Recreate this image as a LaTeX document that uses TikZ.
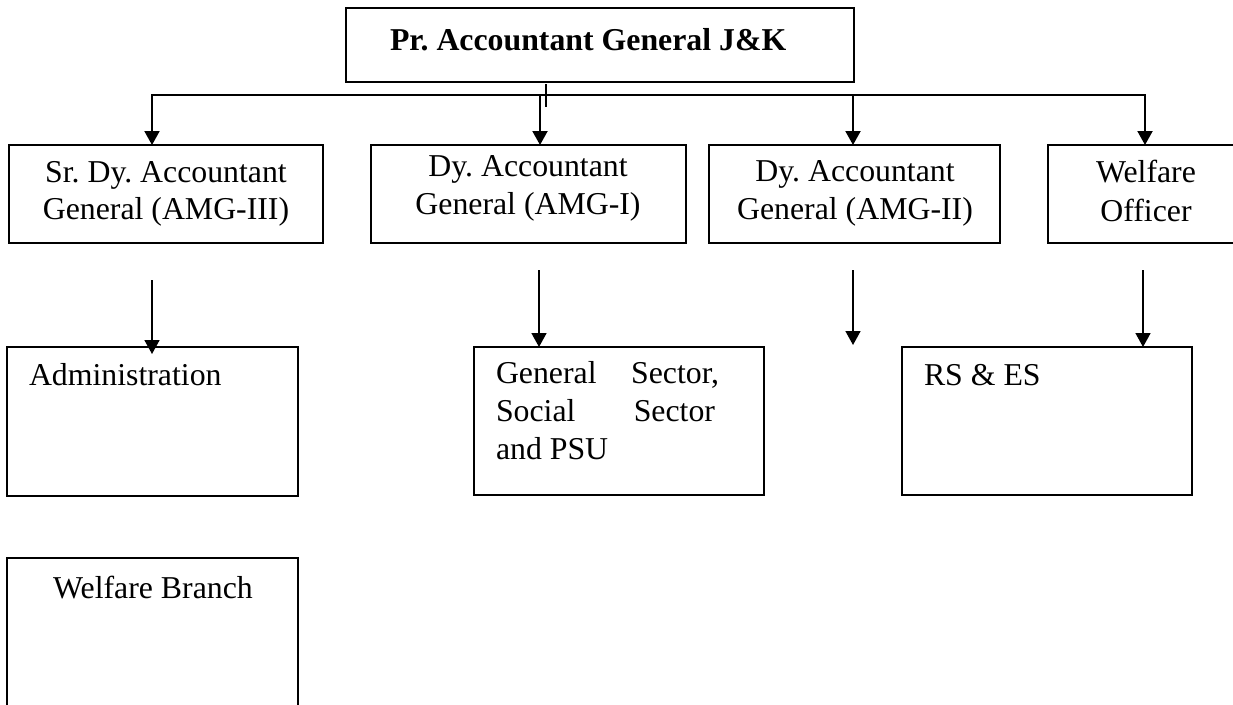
\documentclass[tikz,border=0pt]{standalone}
\usepackage{fontspec}
\setmainfont{Liberation Serif}
\usetikzlibrary{arrows.meta}
\frenchspacing
\begin{document}
\begin{tikzpicture}[x=1pt,y=-1pt,line width=2pt,
  box/.style={draw,line width=2pt,rectangle,inner sep=0pt,outer sep=0pt,anchor=north west},
  txt/.style={inner sep=0pt,font=\fontsize{31.8}{38}\selectfont},
  arr/.style={-{Triangle[width=15pt,length=14pt]},line width=2pt},
  arrb/.style={-{Triangle[width=15pt,length=14pt]},line width=1.7pt}]
\path[use as bounding box,clip] (0,0) rectangle (1233,704);
% top
\node[box,minimum width=508pt,minimum height=74pt] (top) at (346,8) {};
\node[txt,anchor=base west,font=\fontsize{31.8}{38}\selectfont\bfseries] (topt) at (389,50) {Pr. Accountant General J\&K};
% row 1
\node[box,minimum width=314pt,minimum height=98pt] (a) at (9,145) {};
\node[txt,anchor=base] (a1) at (166,182) {Sr. Dy. Accountant};
\node[txt,anchor=base] (a2) at (166,219) {General (AMG-III)};
\node[box,minimum width=315pt,minimum height=98pt] (b) at (371,145) {};
\node[txt,anchor=base] (b1) at (528,176) {Dy. Accountant};
\node[txt,anchor=base] (b2) at (528,214) {General (AMG-I)};
\node[box,minimum width=291pt,minimum height=98pt] (c) at (709,145) {};
\node[txt,anchor=base] (c1) at (855,181) {Dy. Accountant};
\node[txt,anchor=base] (c2) at (855,219) {General (AMG-II)};
\node[box,minimum width=200pt,minimum height=98pt] (d) at (1048,145) {};
\node[txt,anchor=base] (d1) at (1146,182) {Welfare};
\node[txt,anchor=base] (d2) at (1146,221) {Officer};
% row 2
\node[box,minimum width=291pt,minimum height=149pt] (adm) at (7,347) {};
\node[txt,anchor=base west] (admt) at (28,385) {Administration};
\node[box,minimum width=290pt,minimum height=148pt] (gen) at (474,347) {};
\node[txt,anchor=base west] (g1) at (495,383) {\hbox to 223pt{General\hfill Sector,}};
\node[txt,anchor=base west] (g2) at (495,421) {\hbox to 219pt{Social\hfill Sector}};
\node[txt,anchor=base west] (g3) at (495,459) {and PSU};
\node[box,minimum width=290pt,minimum height=148pt] (rs) at (902,347) {};
\node[txt,anchor=base west] (rst) at (923,385) {RS \& ES};
% row 3
\node[box,minimum width=291pt,minimum height=170pt] (wb) at (7,558) {};
\node[txt,anchor=base] (wbt) at (153,598) {Welfare Branch};
% bus and connectors
\coordinate (busL) at (152,95);
\coordinate (busR) at (1145,95);
\coordinate (busX) at (546,95);
\coordinate (busB) at (540,95);
\coordinate (busC) at (853,95);
\coordinate (tk1) at (546,84);
\coordinate (tk2) at (546,107);
\draw[line width=1.6pt] (tk1) -- (tk2);
\draw[arr] (busX) -- (busL) -- (busL |- a.north);
\draw[arr] (busX) -- (busR) -- (busR |- d.north);
\draw[arr] (busB) -- (busB |- b.north);
\draw[arr] (busC) -- (busC |- c.north);
% second level arrows
\coordinate (sA) at (152,280);
\coordinate (eA) at (152,354);
\coordinate (sB) at (539,270);
\coordinate (sC) at (853,270);
\coordinate (eC) at (853,345);
\coordinate (sD) at (1143,270);
\draw[arrb] (sA) -- (eA);
\draw[arrb] (sB) -- (sB |- gen.north);
\draw[arrb] (sC) -- (eC);
\draw[arrb] (sD) -- (sD |- rs.north);
\end{tikzpicture}
\end{document}
